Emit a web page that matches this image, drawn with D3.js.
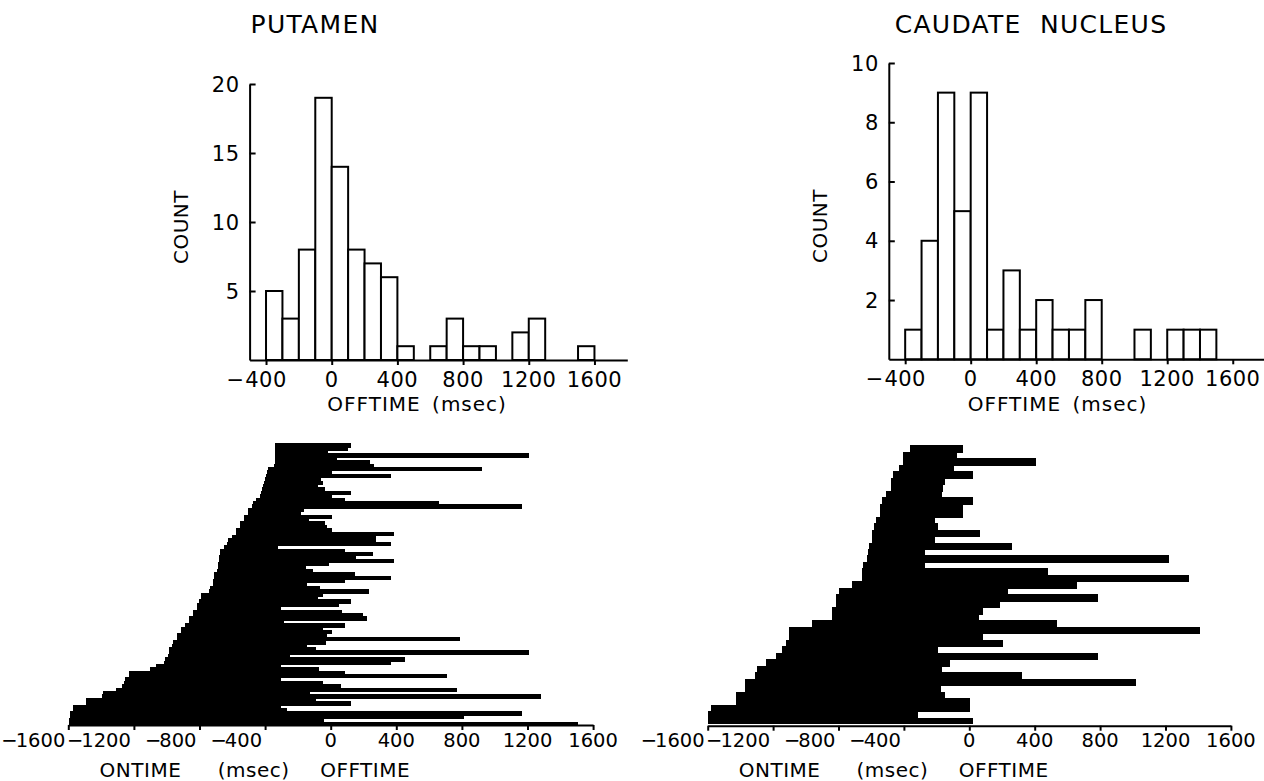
<!DOCTYPE html>
<html><head><meta charset="utf-8">
<script src="https://cdn.jsdelivr.net/npm/d3@7"></script>
<style>
body{margin:0;background:#fff}
svg{display:block}
text{font-family:"DejaVu Sans",sans-serif;fill:#000}
</style>
</head><body>
<svg id="c" width="1264" height="781"></svg>
<script>
// ---------- DATA ----------
const binStarts = [-400,-300,-200,-100,0,100,200,300,400,500,600,700,800,900,1000,1100,1200,1300,1400,1500];
const binWidth = 100;
const putamenCounts = [5,3,8,19,14,8,7,6,1,0,1,3,1,1,0,2,3,0,0,1];
const caudateCounts = [1,4,9,5,9,1,3,1,2,1,1,2,0,0,1,0,1,1,1,0];

const histXTicks = [-400,0,400,800,1200,1600];
const putamenYTicks = [5,10,15,20];
const caudateYTicks = [2,4,6,8,10];
const rasterXTicks = [-1600,-1200,-800,-400,0,400,800,1200,1600];

const putamenOnsets = [-340,-340,-340,-340,-340,-340,-345,-380,-390,-393,-402,-405,-415,-418,-428,-432,-455,-476,-480,-502,-505,-527,-530,-552,-556,-578,-580,-603,-626,-630,-652,-676,-678,-679,-680,-688,-690,-692,-712,-714,-716,-718,-738,-742,-788,-790,-802,-813,-816,-838,-842,-862,-866,-888,-912,-915,-937,-940,-962,-966,-985,-988,-990,-1010,-1015,-1068,-1100,-1230,-1232,-1255,-1258,-1275,-1312,-1390,-1392,-1492,-1495,-1570,-1573,-1588,-1590,-1596,-1598];
const putamenOffsets = [124,104,-14,1210,36,240,265,924,10,365,-57,-50,-75,-32,124,10,87,663,1168,-164,-180,10,-132,-32,-25,10,383,278,278,365,-319,87,260,154,383,-12,-150,-107,149,365,87,-144,-65,233,-45,-80,124,50,-305,67,199,224,-286,87,-45,10,-20,787,-27,-144,-87,1210,-248,452,365,-305,-70,87,708,-305,-50,60,770,-124,1284,-90,124,-305,-268,1168,812,-40,1508];

const caudateOnsets = [-363,-407,-407,-428,-465,-481,-481,-509,-536,-546,-546,-571,-580,-597,-597,-612,-618,-628,-648,-658,-658,-719,-795,-815,-815,-842,-842,-964,-1101,-1101,-1121,-1147,-1182,-1243,-1300,-1310,-1372,-1372,-1427,-1427,-1582,-1600,-1600];
const caudateOffsets = [-37,-77,405,-93,24,-149,-159,-165,24,-37,-37,-210,-190,65,-210,259,-271,1223,-271,483,1346,657,239,785,188,82,60,534,1411,82,204,-190,785,-120,-169,320,1020,-175,-149,5,5,-312,24];

const titles = ["PUTAMEN","CAUDATE NUCLEUS"];
const histXLabel = "OFFTIME (msec)";
const histYLabel = "COUNT";
const rasterLabels = ["ONTIME","(msec)","OFFTIME"];

// ---------- DRAW ----------
const svg = d3.select("#c");
const LW = 2;

// histogram labels: digits centred on the tick, minus sign hanging to the left
function histTickLabels(g, scale, ticks, y, size){
  ticks.forEach(t=>{
    const x = scale(t);
    const d = g.append("text").attr("x",x).attr("y",y).attr("text-anchor","middle")
      .style("font-size",size+"px").style("letter-spacing","0.5px").text(String(Math.abs(t)));
    if(t<0){
      const w = d.node().getComputedTextLength();
      g.append("text").attr("x",x - w/2 - 1).attr("y",y).attr("text-anchor","end")
        .style("font-size",size+"px").text("\u2212");
    }
  });
}
// raster labels: negatives packed to end just before their tick, others centred
function rasterTickLabels(g, scale, ticks, y, size){
  ticks.forEach(t=>{
    const x = scale(t);
    if(t<0){
      const tx = g.append("text").attr("x",x-3).attr("y",y).attr("text-anchor","end")
        .style("font-size",size+"px");
      tx.append("tspan").text("\u2212");
      tx.append("tspan").attr("dx",-2).text(String(Math.abs(t)));
    } else {
      g.append("text").attr("x",x).attr("y",y).attr("text-anchor","middle")
        .style("font-size",size+"px").text(String(t));
    }
  });
}

function histogram(cfg){
  const g = svg.append("g");
  const x = d3.scaleLinear().domain([-500,1800]).range(cfg.xr);
  const y = d3.scaleLinear().domain([0,cfg.ymax]).range(cfg.yr);
  g.selectAll("rect.bar").data(binStarts.map((b,i)=>({b, c:cfg.counts[i]})).filter(d=>d.c>0))
    .join("rect").attr("class","bar")
    .attr("x",d=>x(d.b)).attr("width",d=>x(d.b+binWidth)-x(d.b))
    .attr("y",d=>y(d.c)).attr("height",d=>y(0)-y(d.c))
    .attr("fill","#fff").attr("stroke","#000").attr("stroke-width",LW);
  const ax = g.append("g").attr("transform",`translate(0,${cfg.yr[0]})`)
    .call(d3.axisBottom(x).tickValues(histXTicks).tickSize(5).tickSizeOuter(0).tickFormat(""));
  ax.selectAll("path,line").attr("stroke","#000").attr("stroke-width",LW);
  histTickLabels(g, x, histXTicks, cfg.yr[0]+27, 21);
  const ay = g.append("g").attr("transform",`translate(${cfg.xr[0]},0)`)
    .call(d3.axisRight(y).tickValues(cfg.yticks).tickSize(6).tickSizeOuter(0).tickFormat(""));
  ay.selectAll("path,line").attr("stroke","#000").attr("stroke-width",LW);
  cfg.yticks.forEach(t=>{
    g.append("text").attr("x",cfg.xr[0]-10).attr("y",y(t)).attr("dy","0.36em")
      .attr("text-anchor","end").style("font-size","21px").style("letter-spacing","0.5px").text(t);
  });
  g.append("text").attr("transform",`translate(${cfg.xr[0]-62},${cfg.countY}) rotate(-90)`)
    .attr("text-anchor","middle").style("font-size","20px").style("letter-spacing","0.5px").text(histYLabel);
  g.append("text").attr("x",x(cfg.labelMs)).attr("y",411).attr("text-anchor","middle")
    .style("font-size","20px").style("letter-spacing","1px").style("word-spacing","4px").text(histXLabel);
  g.append("text").attr("x",cfg.titleX).attr("y",33).attr("text-anchor","middle")
    .style("font-size","25px").style("letter-spacing","1.3px").style("word-spacing","9px").text(cfg.title);
}

function raster(cfg){
  const g = svg.append("g");
  const x = d3.scaleLinear().domain([-1600,1600]).range(cfg.xr);
  const rows = d3.range(cfg.on.length);
  const yb = d3.scaleBand().domain(rows).range(cfg.yr).paddingInner(0).paddingOuter(0);
  g.selectAll("rect").data(rows).join("rect")
    .attr("x",i=>x(cfg.on[i])).attr("width",i=>x(cfg.off[i])-x(cfg.on[i]))
    .attr("y",i=>yb(i)).attr("height",i=> i===rows.length-1 ? yb.bandwidth() : yb.bandwidth()+1)
    .attr("fill","#000").attr("shape-rendering","crispEdges");
  const ax = g.append("g").attr("transform",`translate(0,${cfg.axisY})`)
    .call(d3.axisBottom(x).tickValues(rasterXTicks).tickSize(5).tickSizeOuter(0).tickFormat(""));
  ax.selectAll("path,line").attr("stroke","#000").attr("stroke-width",LW);
  rasterTickLabels(g, x, rasterXTicks, 747, 19.5);
  const pos = [-1160,-470,210];
  rasterLabels.forEach((t,i)=>{
    g.append("text").attr("x",x(pos[i])).attr("y",777).attr("text-anchor","middle")
      .style("font-size","20px").style("letter-spacing","0.5px").text(t);
  });
}

histogram({xr:[249.6,627.3], yr:[360,84], ymax:20, counts:putamenCounts, yticks:putamenYTicks,
  countY:227, labelMs:520, title:titles[0], titleX:315});
histogram({xr:[888.8,1265.5], yr:[359.3,63], ymax:10, counts:caudateCounts, yticks:caudateYTicks,
  countY:226, labelMs:530, title:titles[1], titleX:1031});

raster({xr:[68.3,593.1], yr:[443.3,725], axisY:725, on:putamenOnsets, off:putamenOffsets});
raster({xr:[707.7,1230.9], yr:[445.3,724], axisY:725.7, on:caudateOnsets, off:caudateOffsets});
</script>
</body></html>
